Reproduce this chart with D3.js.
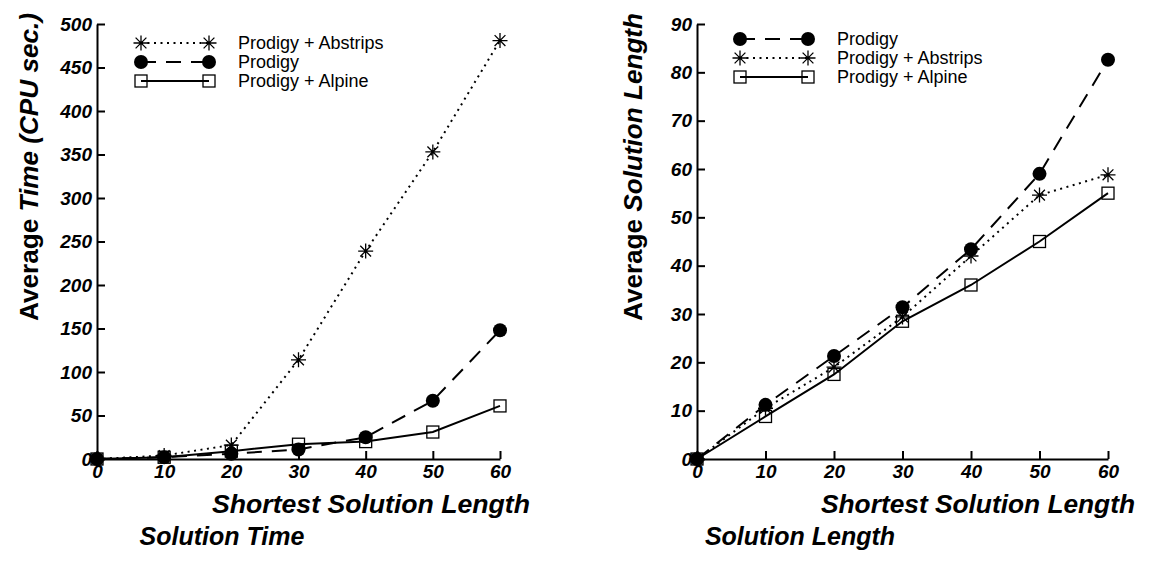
<!DOCTYPE html>
<html><head><meta charset="utf-8">
<script src="https://cdn.jsdelivr.net/npm/d3@7"></script>
<style>
body{margin:0;background:#fff;}
svg{display:block;font-family:"Liberation Sans",Arial,sans-serif;}
</style></head>
<body>
<svg id="chart" width="1151" height="575"></svg>
<script>
const shortestLength = [0, 10, 20, 30, 40, 50, 60];
const xTicks = [0, 10, 20, 30, 40, 50, 60];
const timeTicks = [0, 50, 100, 150, 200, 250, 300, 350, 400, 450, 500];
const lengthTicks = [0, 10, 20, 30, 40, 50, 60, 70, 80, 90];

const timeAbstrips = [0, 4, 16, 114, 239, 353, 481];
const timeProdigy  = [0, 2, 6, 11, 25, 67, 148];
const timeAlpine   = [0, 2, 9, 17, 20, 31, 61];

const lenProdigy  = [0, 11.2, 21.3, 31.4, 43.4, 59, 82.6];
const lenAbstrips = [0, 10.5, 19, 29.4, 42, 54.6, 58.8];
const lenAlpine   = [0, 8.8, 17.5, 28.5, 36, 45, 55];

const svg = d3.select("#chart");

const styles = {
  abstrips: {dash: "2,4.5", marker: "star"},
  prodigy:  {dash: "15,10", marker: "circle"},
  alpine:   {dash: null, marker: "square"}
};

function drawMarker(g, type, x, y) {
  if (type === "circle") {
    g.append("circle").attr("cx", x).attr("cy", y).attr("r", 7).attr("fill", "#000");
  } else if (type === "square") {
    g.append("rect").attr("x", x - 6).attr("y", y - 6).attr("width", 12).attr("height", 12)
      .attr("fill", "none").attr("stroke", "#000").attr("stroke-width", 1.3);
  } else {
    const r = 7.5, d = r * 0.72;
    const p = `M${x},${y - r}L${x},${y + r}M${x - r},${y}L${x + r},${y}` +
      `M${x - d},${y - d}L${x + d},${y + d}M${x - d},${y + d}L${x + d},${y - d}`;
    g.append("path").attr("d", p).attr("stroke", "#000").attr("stroke-width", 1.3).attr("fill", "none");
  }
}

function panel(cfg) {
  const x = d3.scaleLinear().domain([0, 60]).range([cfg.x0, cfg.x1]);
  const y = d3.scaleLinear().domain([0, cfg.ymax]).range([459, 24]);
  const g = svg.append("g");

  const ax = g.append("g").attr("transform", "translate(0,459)")
    .call(d3.axisBottom(x).tickValues(xTicks).tickSizeInner(-8).tickSizeOuter(0).tickPadding(6));
  const ay = g.append("g").attr("transform", `translate(${cfg.x0},0)`)
    .call(d3.axisLeft(y).tickValues(cfg.yTicks).tickSizeInner(-8).tickSizeOuter(0).tickPadding(5));
  [ax, ay].forEach(a => {
    a.select(".domain").attr("stroke", "#000").attr("stroke-width", 2);
    a.selectAll(".tick line").attr("stroke", "#000").attr("stroke-width", 2);
    a.selectAll(".tick text").attr("fill", "#000").attr("font-size", 19)
      .attr("font-weight", "bold").attr("font-style", "italic")
      .attr("font-family", "'Liberation Sans',Arial,sans-serif");
  });

  const line = d3.line().x((d, i) => x(shortestLength[i])).y(d => y(d));
  cfg.series.forEach(s => {
    const st = styles[s.key];
    g.append("path").datum(s.values).attr("d", line).attr("fill", "none")
      .attr("stroke", "#000").attr("stroke-width", 2)
      .attr("stroke-dasharray", st.dash);
  });
  cfg.series.forEach(s => {
    const st = styles[s.key];
    s.values.forEach((v, i) => drawMarker(g, st.marker, x(shortestLength[i]), y(v)));
  });

  // legend
  cfg.series.slice().sort((a, b) => a.legendRow - b.legendRow).forEach(s => {
    const st = styles[s.key];
    const ly = cfg.legendY + s.legendRow * 19;
    g.append("line").attr("x1", cfg.legendX).attr("x2", cfg.legendX + 68)
      .attr("y1", ly).attr("y2", ly).attr("stroke", "#000").attr("stroke-width", 2)
      .attr("stroke-dasharray", st.dash);
    drawMarker(g, st.marker, cfg.legendX, ly);
    drawMarker(g, st.marker, cfg.legendX + 68, ly);
    g.append("text").attr("x", cfg.legendX + 97).attr("y", ly + 6)
      .attr("font-size", 18).text(s.name);
  });

  // axis titles
  g.append("text").attr("x", cfg.xTitleEnd).attr("y", 513).attr("text-anchor", "end")
    .attr("font-size", 25).attr("font-weight", "bold").attr("font-style", "italic")
    .attr("textLength", cfg.xTitleLen).attr("lengthAdjust", "spacingAndGlyphs")
    .text("Shortest Solution Length");
  const yt = g.append("text")
    .attr("transform", `translate(${cfg.yTitleX},${cfg.yTitleY}) rotate(-90)`)
    .attr("text-anchor", "middle").attr("font-size", 25).attr("font-weight", "bold")
    .attr("textLength", 308).attr("lengthAdjust", "spacingAndGlyphs");
  yt.append("tspan").attr("font-style", "normal").text("Average ");
  yt.append("tspan").attr("font-style", "italic").text(cfg.yTitle);

  g.append("text").attr("x", cfg.titleX).attr("y", 545).attr("text-anchor", "middle")
    .attr("font-size", 25).attr("font-weight", "bold").attr("font-style", "italic")
    .text(cfg.title);
}

panel({
  x0: 97, x1: 500, ymax: 500, yTicks: timeTicks,
  legendX: 141, legendY: 43,
  xTitleEnd: 530, xTitleLen: 318,
  yTitle: "Time (CPU sec.)", yTitleX: 38, yTitleY: 167,
  title: "Solution Time", titleX: 222,
  series: [
    {key: "abstrips", name: "Prodigy + Abstrips", values: timeAbstrips, legendRow: 0},
    {key: "prodigy", name: "Prodigy", values: timeProdigy, legendRow: 1},
    {key: "alpine", name: "Prodigy + Alpine", values: timeAlpine, legendRow: 2}
  ]
});

panel({
  x0: 697, x1: 1108, ymax: 90, yTicks: lengthTicks,
  legendX: 740, legendY: 39,
  xTitleEnd: 1135, xTitleLen: 314,
  yTitle: "Solution Length", yTitleX: 642, yTitleY: 167,
  title: "Solution Length", titleX: 800,
  series: [
    {key: "abstrips", name: "Prodigy + Abstrips", values: lenAbstrips, legendRow: 1},
    {key: "prodigy", name: "Prodigy", values: lenProdigy, legendRow: 0},
    {key: "alpine", name: "Prodigy + Alpine", values: lenAlpine, legendRow: 2}
  ]
});
</script>
</body></html>
